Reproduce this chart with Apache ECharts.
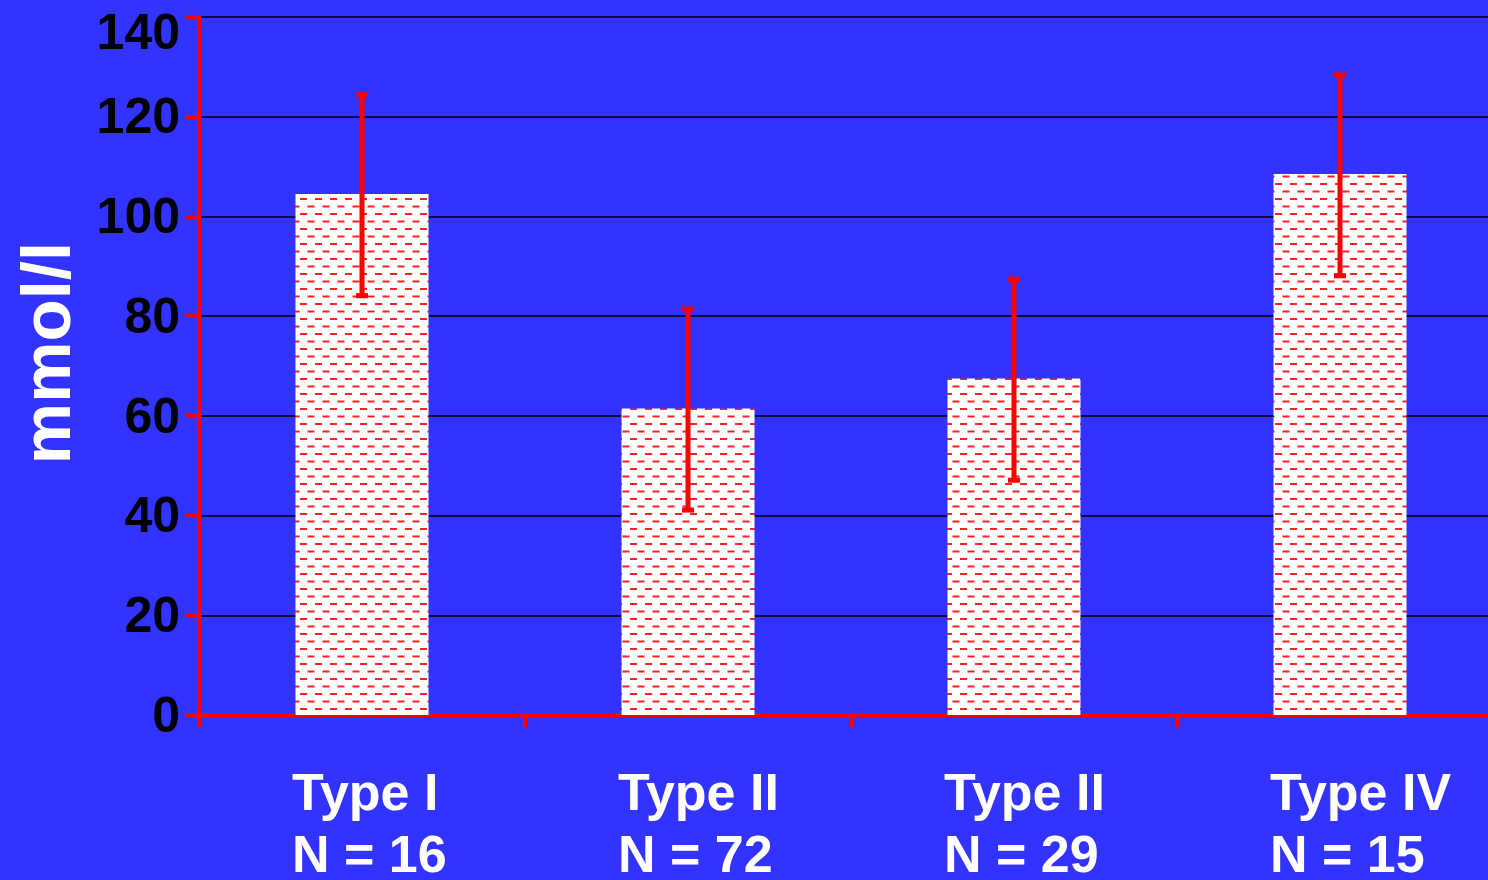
<!DOCTYPE html>
<html lang="en" style="height: 100%">
<head>
    <meta charset="UTF-8">
    <title>mmol/l by type</title>
    <script src="https://cdn.jsdelivr.net/npm/echarts@6/dist/echarts.min.js"></script>
</head>
<body style="height: 100%; margin: 0; background: #3333ff">
<div id="container" style="width: 1488px; height: 880px"></div>

<script type="text/javascript">
    var categories = ['Type I\nN = 16', 'Type II\nN = 72', 'Type II\nN = 29', 'Type IV\nN = 15'];
    var means = [104.5, 61.5, 67.5, 108.5];
    var errLow = [84, 41, 47, 88];
    var errHigh = [124.5, 81.5, 87.5, 128.5];
    var yTicks = [0, 20, 40, 60, 80, 100, 120, 140];

    // white tile with staggered red dashes
    var tile = document.createElement('canvas');
    tile.width = 15;
    tile.height = 15;
    var tctx = tile.getContext('2d');
    tctx.fillStyle = '#ffffff';
    tctx.fillRect(0, 0, 15, 15);
    tctx.fillStyle = 'rgba(255,20,20,0.95)';
    tctx.fillRect(0, 3, 7, 2);
    tctx.fillRect(7.5, 10.5, 7, 2);

    var dom = document.getElementById("container");
    var myChart = echarts.init(dom, null, {renderer: 'canvas'});

    var option = {
        backgroundColor: '#3333ff',
        animation: false,
        grid: {left: 199, right: -15, top: 17, bottom: 165, outerBoundsMode: 'none'},
        xAxis: {
            type: 'category',
            data: categories,
            axisLine: {lineStyle: {color: '#ff0000', width: 4}},
            axisTick: {show: true, length: 13, lineStyle: {color: '#ff0000', width: 4}},
            axisLabel: {
                color: '#ffffff',
                fontFamily: 'Liberation Sans, Arial, sans-serif',
                fontWeight: 'bold',
                fontSize: 52,
                lineHeight: 62,
                margin: 50,
                align: 'left',
                padding: [0, 0, 0, -70]
            }
        },
        yAxis: {
            type: 'value',
            min: yTicks[0],
            max: yTicks[yTicks.length - 1],
            interval: yTicks[1] - yTicks[0],
            name: 'mmol/l',
            nameLocation: 'middle',
            nameRotate: 90,
            nameGap: 114,
            nameTextStyle: {
                color: '#ffffff',
                fontFamily: 'Liberation Sans, Arial, sans-serif',
                fontWeight: 'bold',
                fontSize: 69,
                padding: [0, 0, 0, 26]
            },
            axisLine: {show: true, lineStyle: {color: '#ff0000', width: 4}},
            axisTick: {show: true, length: 13, lineStyle: {color: '#ff0000', width: 4}},
            splitLine: {lineStyle: {color: '#000000', width: 1.5}},
            axisLabel: {
                color: '#000000',
                fontFamily: 'Liberation Sans, Arial, sans-serif',
                fontWeight: 'bold',
                fontSize: 50,
                margin: 19,
                padding: [6, 0, 0, 0],
                formatter: function (v) {
                    return v === 140 ? '{top|140}' : String(v);
                },
                rich: {
                    top: {
                        color: '#000000',
                        fontFamily: 'Liberation Sans, Arial, sans-serif',
                        fontWeight: 'bold',
                        fontSize: 50,
                        padding: [30, 0, 0, 0]
                    }
                }
            }
        },
        series: [
            {
                name: 'mean',
                type: 'bar',
                barWidth: 133,
                data: means,
                itemStyle: {
                    color: {image: tile, repeat: 'repeat'}
                },
                z: 2
            },
            {
                name: 'error',
                type: 'custom',
                z: 3,
                data: means.map(function (m, i) {
                    return [i, errLow[i], errHigh[i]];
                }),
                renderItem: function (params, api) {
                    var lo = api.coord([api.value(0), api.value(1)]);
                    var hi = api.coord([api.value(0), api.value(2)]);
                    var cap = 6;
                    var fill = '#ff0000';
                    return {
                        type: 'group',
                        children: [
                            {type: 'rect', shape: {x: hi[0] - 2.5, y: hi[1], width: 5, height: lo[1] - hi[1]}, style: {fill: fill}},
                            {type: 'rect', shape: {x: hi[0] - cap, y: hi[1] - 2, width: cap * 2, height: 5}, style: {fill: fill}},
                            {type: 'rect', shape: {x: lo[0] - cap, y: lo[1] - 3, width: cap * 2, height: 5}, style: {fill: fill}}
                        ]
                    };
                }
            }
        ]
    };
    myChart.setOption(option, true);
</script>
</body>
</html>
